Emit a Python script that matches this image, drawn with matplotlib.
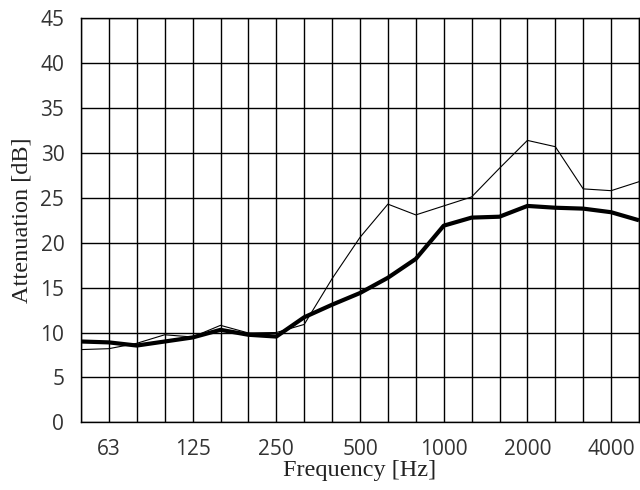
import matplotlib
matplotlib.use("Agg")
import matplotlib.pyplot as plt
import numpy as np

# Third-octave band centre frequencies (Hz)
bands = [50, 63, 80, 100, 125, 160, 200, 250, 315, 400, 500, 630, 800,
         1000, 1250, 1600, 2000, 2500, 3150, 4000, 5000]
# Attenuation values (dB)
attenuation_thick = [9.0, 8.9, 8.55, 9.0, 9.45, 10.3, 9.75, 9.55, 11.7, 13.1, 14.4,
                     16.1, 18.2, 21.9, 22.8, 22.9, 24.1, 23.9, 23.8, 23.4, 22.5]
attenuation_thin = [8.1, 8.2, 8.8, 9.75, 9.5, 10.8, 9.95, 10.0, 10.9, 16.0, 20.6,
                    24.3, 23.1, 24.1, 25.1, 28.3, 31.4, 30.7, 26.0, 25.8, 26.8]
tick_labels = ["63", "125", "250", "500", "1000", "2000", "4000"]
y_ticks = [0, 5, 10, 15, 20, 25, 30, 35, 40, 45]

fig = plt.figure(figsize=(6.4, 4.9), dpi=100)
ax = fig.add_axes([81 / 640, (490 - 422.3) / 490, 558 / 640, 404 / 490])

x = np.arange(len(bands))
ax.plot(x, attenuation_thin, color="black", linewidth=0.8, zorder=3)
ax.plot(x, attenuation_thick, color="black", linewidth=3.0, zorder=4,
        solid_joinstyle="round", solid_capstyle="butt")

ax.set_xlim(0, len(bands) - 1)
ax.set_ylim(0, 45)
ax.set_xticks(x, minor=True)
tick_pos = [bands.index(int(t)) for t in tick_labels]
ax.set_xticks(tick_pos)
ax.set_xticklabels(tick_labels)
ax.set_yticks(y_ticks)
ax.set_yticklabels([str(v) for v in y_ticks])

ax.grid(True, which="both", axis="x", color="black", linewidth=1.0)
ax.grid(True, which="major", axis="y", color="black", linewidth=1.0)
ax.set_axisbelow(True)
for s in ax.spines.values():
    s.set_linewidth(1.0)
    s.set_color("black")

ax.tick_params(axis="both", which="both", length=0, pad=12, labelsize=15,
               colors="#333333")
for lab in ax.get_xticklabels() + ax.get_yticklabels():
    lab.set_fontfamily("Open Sans")

ax.set_xlabel("Frequency [Hz]", fontsize=17.5, family="Liberation Serif",
              labelpad=0, color="#222222")
ax.set_ylabel("Attenuation [dB]", fontsize=17.5, family="Liberation Serif",
              labelpad=6, color="#222222")

fig.savefig("out.png", dpi=100, facecolor="white")
